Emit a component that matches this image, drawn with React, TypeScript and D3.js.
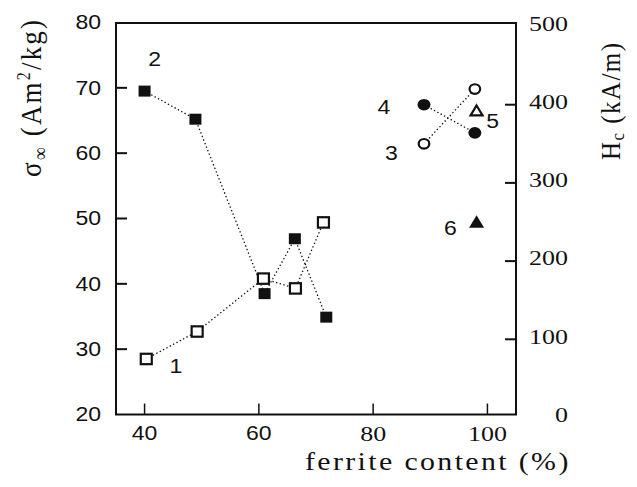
import React from 'react';
import * as d3 from 'd3';

// ---- data ----
const xTicks = [40, 60, 80, 100];
const leftTicks = [20, 30, 40, 50, 60, 70, 80];
const rightTicks = [0, 100, 200, 300, 400, 500];

// series 1: open squares (left axis)
const s1X = [40.3, 49.2, 60.8, 66.4, 71.3];
const s1Y = [28.5, 32.7, 40.8, 39.3, 49.4];
// series 2: filled squares (left axis)
const s2X = [40.0, 48.9, 61.0, 66.3, 71.8];
const s2Y = [69.5, 65.2, 38.5, 46.9, 34.9];
// series 3: open circles (right axis)
const s3X = [88.9, 97.8];
const s3Y = [350, 420];
// series 4: filled circles (right axis)
const s4X = [88.9, 97.8];
const s4Y = [400, 364];
// series 5: open triangle (right axis)
const s5X = [98.1];
const s5Y = [392];
// series 6: filled triangle (right axis)
const s6X = [98.1];
const s6Y = [250];

// annotation labels (data coordinates)
const labelText = ['1', '2', '3', '4', '5', '6'];
const labelX = [45.5, 41.75, 83.2, 81.9, 100.9, 93.5];
const labelY = [27.3, 74.3, 337, 396, 379, 242];
const labelAxis = ['L', 'L', 'R', 'R', 'R', 'R'];

const W = 637;
const H = 487;
const L = 116, R = 516, T = 23, B = 414.5;
const SX = 1.18;

const SANS = 'Liberation Sans, Arial, sans-serif';
const SERIF = 'Liberation Serif, Times New Roman, serif';

export default function App() {
  const x = d3.scaleLinear().domain([35, 105]).range([L, R]);
  const yL = d3.scaleLinear().domain([20, 80]).range([B, 22.5]);
  const yR = d3.scaleLinear().domain([0, 500]).range([417.5, 26.5]);

  const lineGen = (xs: number[], ys: number[], ys2: d3.ScaleLinear<number, number>) =>
    d3.line<number>().x((_, i) => x(xs[i])).y((d) => ys2(d))(ys) || '';

  const dotted = { fill: 'none', stroke: '#111', strokeWidth: 1.3, strokeDasharray: '1.4 2.4' };

  const tick = 11;

  const txt = (px: number, py: number, s: string, anchor: string, font: string, size: number, key?: string) => (
    <text
      key={key}
      transform={`translate(${px},${py}) scale(${SX},1)`}
      textAnchor={anchor}
      dominantBaseline="central"
      fontFamily={font}
      fontSize={size}
      fill="#111"
    >
      {s}
    </text>
  );

  const tri = (cx: number, cy: number, s: number) =>
    `M${cx},${cy - s * 0.55} L${cx + s * 0.6},${cy + s * 0.45} L${cx - s * 0.6},${cy + s * 0.45} Z`;

  return (
    <svg width={W} height={H} style={{ position: 'absolute', left: 0, top: 0, background: '#fff' }}>
      <rect x={0} y={0} width={W} height={H} fill="#fff" />

      {/* dotted connecting lines */}
      <path d={lineGen(s1X, s1Y, yL)} {...dotted} />
      <path d={lineGen(s2X, s2Y, yL)} {...dotted} />
      <path d={lineGen(s3X, s3Y, yR)} {...dotted} />
      <path d={lineGen(s4X, s4Y, yR)} {...dotted} />

      {/* frame */}
      <rect x={L} y={T} width={R - L} height={B - T} fill="none" stroke="#111" strokeWidth={2} />

      {/* x ticks */}
      {xTicks.map((v) => (
        <g key={'xt' + v}>
          <line x1={x(v)} x2={x(v)} y1={B} y2={B - tick} stroke="#111" strokeWidth={1.5} />
          {txt(x(v), 434, String(v), 'middle', v < 70 ? SANS : SERIF, v < 70 ? 19.5 : 22)}
        </g>
      ))}

      {/* left ticks */}
      {leftTicks.map((v) => (
        <g key={'lt' + v}>
          {v > 20 && v < 80 && (
            <line x1={L} x2={L + tick} y1={yL(v)} y2={yL(v)} stroke="#111" strokeWidth={2} />
          )}
          {txt(101, yL(v) + 0.5, String(v), 'end', SANS, 19.5)}
        </g>
      ))}

      {/* right ticks */}
      {rightTicks.map((v) => (
        <g key={'rt' + v}>
          {v > 0 && v < 500 && (
            <line x1={R - tick} x2={R} y1={yR(v)} y2={yR(v)} stroke="#111" strokeWidth={2} />
          )}
          {txt(568, yR(v) - 3, String(v), 'end', SERIF, 22)}
        </g>
      ))}

      {/* markers: series 1 open squares */}
      {s1X.map((v, i) => (
        <rect key={'s1' + i} x={x(v) - 5.5} y={yL(s1Y[i]) - 5.2} width={11} height={10.4}
          fill="#fff" stroke="#111" strokeWidth={2.2} />
      ))}
      {/* series 2 filled squares */}
      {s2X.map((v, i) => (
        <rect key={'s2' + i} x={x(v) - 6} y={yL(s2Y[i]) - 5.5} width={12} height={11} fill="#111" />
      ))}
      {/* series 3 open circles */}
      {s3X.map((v, i) => (
        <ellipse key={'s3' + i} cx={x(v)} cy={yR(s3Y[i])} rx={5.3} ry={4.8}
          fill="#fff" stroke="#111" strokeWidth={2.2} />
      ))}
      {/* series 4 filled circles */}
      {s4X.map((v, i) => (
        <ellipse key={'s4' + i} cx={x(v)} cy={yR(s4Y[i])} rx={6.5} ry={5.8} fill="#111" />
      ))}
      {/* series 5 open triangle */}
      {s5X.map((v, i) => (
        <path key={'s5' + i} d={tri(x(v), yR(s5Y[i]), 10)} fill="#fff" stroke="#111" strokeWidth={2.2} strokeLinejoin="miter" />
      ))}
      {/* series 6 filled triangle */}
      {s6X.map((v, i) => (
        <path key={'s6' + i} d={tri(x(v), yR(s6Y[i]), 12.5)} fill="#111" />
      ))}

      {/* series labels */}
      {labelText.map((s, i) =>
        txt(x(labelX[i]), labelAxis[i] === 'L' ? yL(labelY[i]) : yR(labelY[i]), s, 'middle', SANS, 19.5, 'lab' + i)
      )}

      {/* x axis title */}
      <text transform="translate(305,470) scale(1.15,1)" fontFamily={SERIF} fontSize={26} fill="#111"
        textLength={229} lengthAdjust="spacing">
        ferrite content (%)
      </text>

      {/* left axis title */}
      <text transform="translate(41,177) rotate(-90) scale(1,1.12)" fontFamily={SERIF} fontSize={27} fill="#111"
        textLength={157} lengthAdjust="spacing">
        σ<tspan dy={5} fontSize={18}>∞</tspan><tspan dy={-5}>{'\u00A0(Am'}</tspan><tspan dy={-10} fontSize={16}>2</tspan><tspan dy={10}>/kg)</tspan>
      </text>

      {/* right axis title */}
      <text transform="translate(620,160) rotate(-90) scale(1,1.12)" fontFamily={SERIF} fontSize={25} fill="#111"
        textLength={117} lengthAdjust="spacing">
        H<tspan dy={4} fontSize={17}>c</tspan><tspan dy={-4}>{'\u00A0(kA/m)'}</tspan>
      </text>
    </svg>
  );
}
